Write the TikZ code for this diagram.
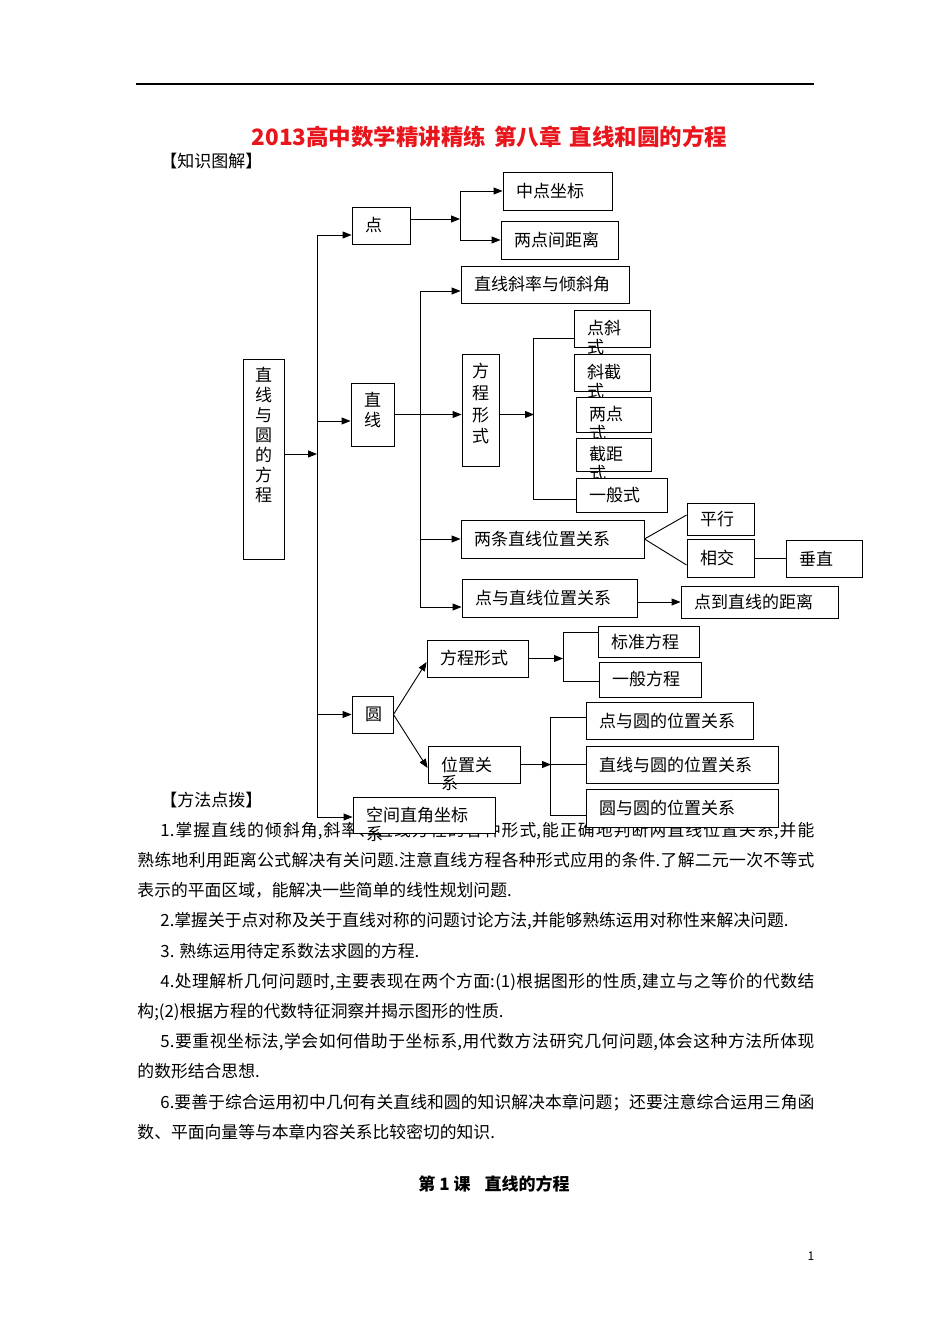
\documentclass[tikz,border=0pt]{standalone}
\usepackage{fontspec}
\setmainfont{Noto Sans CJK SC}
\usepackage{tikz}
\usetikzlibrary{arrows.meta,calc}

\definecolor{titlered}{RGB}{232,22,28}
\newcommand{\diafont}{\fontsize{17}{18.5}\selectfont}

\begin{document}
\begin{tikzpicture}[x=1pt, y=-1pt, line width=0.9pt, font=\diafont]
		\tikzset{box/.style={draw, fill=white, line width=0.9pt, inner xsep=13pt, inner ysep=0pt, align=left},
			vtxt/.style={anchor=north, inner sep=0pt, align=center},
			wrap/.style={anchor=west, inner sep=0pt},
			arr/.style={-{Triangle[length=9pt, width=7pt]}}}
		\useasboundingbox (0,0) rectangle (950,1344);
		% page head
		\draw[line width=1.3pt] (136,84) -- (814,84);
		\node[text=titlered, font=\fontsize{22.5}{24}\selectfont\bfseries] (title) at (489.5,137) {2013高中数学精讲精练\hspace{8pt}第八章\hspace{8pt}直线和圆的方程};
		\node[anchor=west, inner sep=0pt] (zstj) at (160,161) {【知识图解】};
		\node[anchor=west, inner sep=0pt] (ffdb) at (160,800) {【方法点拨】};
		% text under the chart
		\node[anchor=north west, inner sep=0pt, text width=677pt, align=justify,
			font=\fontsize{16.8}{30.2}\selectfont] (body) at (137,821.5) {\XeTeXlinebreaklocale "zh"\XeTeXlinebreakskip=0pt plus 3pt
			\hspace*{23pt}1.掌握直线的倾斜角,斜率、直线方程的各种形式,能正确地判断两直线位置关系,并能\linebreak
			熟练地利用距离公式解决有关问题.注意直线方程各种形式应用的条件.了解二元一次不等式\linebreak
			表示的平面区域，能解决一些简单的线性规划问题.\par
			\hspace*{23pt}2.掌握关于点对称及关于直线对称的问题讨论方法,并能够熟练运用对称性来解决问题.\par
			\hspace*{23pt}3. 熟练运用待定系数法求圆的方程.\par
			\hspace*{23pt}4.处理解析几何问题时,主要表现在两个方面:(1)根据图形的性质,建立与之等价的代数结\linebreak
			构;(2)根据方程的代数特征洞察并揭示图形的性质.\par
			\hspace*{23pt}5.要重视坐标法,学会如何借助于坐标系,用代数方法研究几何问题,体会这种方法所体现\linebreak
			的数形结合思想.\par
			\hspace*{23pt}6.要善于综合运用初中几何有关直线和圆的知识解决本章问题；还要注意综合运用三角函\linebreak
			数、平面向量等与本章内容关系比较密切的知识.\par};
		\node[anchor=west, inner sep=0pt, font=\fontsize{17}{18}\selectfont\bfseries] (ke1) at (418,1184) {第 1 课\hspace{14pt}直线的方程};
		\node[inner sep=0pt, font=\fontsize{12}{12}\selectfont] (pg) at (811,1256) {1};
		% root and first level
		\node[box, minimum width=41pt, minimum height=200pt, inner xsep=0pt] (main) at (263.5,459) {};
		\node[vtxt, font=\fontsize{17}{20}\selectfont] (main-t) at (263.5,367) {直\\线\\与\\圆\\的\\方\\程};
		\node[box, text width=32pt, minimum height=37pt] (dian) at (381,225.5) {点};
		\node[box, minimum width=43pt, minimum height=63pt, inner xsep=0pt] (zhi) at (372.5,414.5) {};
		\node[vtxt, font=\fontsize{17}{20}\selectfont] (zhi-t) at (372.5,392) {直\\线};
		\node[box, text width=15pt, minimum height=37pt] (yuan) at (372.5,714.5) {圆};
		% points
		\node[box, text width=83pt, minimum height=38pt] (zdzb) at (557.5,191) {中点坐标};
		\node[box, text width=91pt, minimum height=38pt] (ldjl) at (559.5,240) {两点间距离};
		% lines
		\node[box, text width=142pt, minimum height=37pt] (xlql) at (545,284.5) {直线斜率与倾斜角};
		\node[box, minimum width=37pt, minimum height=112pt, inner xsep=0pt] (fcxs) at (480.5,410) {};
		\node[vtxt, font=\fontsize{17}{21.7}\selectfont] (fcxs-t) at (480.5,363) {方\\程\\形\\式};
		\node[box, text width=50pt, minimum height=37pt] (dxs) at (612,328.5) {点斜};
		\node[wrap] (dxs-2) at ([xshift=13pt,yshift=-18.5pt]dxs.west) {式};
		\node[box, text width=50pt, minimum height=37pt] (xjs) at (612,372.5) {斜截};
		\node[wrap] (xjs-2) at ([xshift=13pt,yshift=-18.5pt]xjs.west) {式};
		\node[box, text width=49pt, minimum height=35pt] (lds) at (613.5,414.5) {两点};
		\node[wrap] (lds-2) at ([xshift=13pt,yshift=-18.5pt]lds.west) {式};
		\node[box, text width=49pt, minimum height=33pt] (jjs) at (613.5,454.5) {截距};
		\node[wrap] (jjs-2) at ([xshift=13pt,yshift=-18.5pt]jjs.west) {式};
		\node[box, text width=65pt, minimum height=34pt] (ybs) at (621.5,495) {一般式};
		\node[box, text width=157pt, minimum height=38pt] (ltzx) at (552.5,539) {两条直线位置关系};
		\node[box, text width=41pt, minimum height=32pt] (px) at (720.5,519) {平行};
		\node[box, text width=41pt, minimum height=38pt] (xj) at (720.5,558) {相交};
		\node[box, text width=50pt, minimum height=37pt] (cz) at (824,558.5) {垂直};
		\node[box, text width=149pt, minimum height=38pt] (dyzx) at (549.5,598) {点与直线位置关系};
		\node[box, text width=131pt, minimum height=32pt] (ddzx) at (759.5,602) {点到直线的距离};
		% circles
		\node[box, text width=75pt, minimum height=37pt] (yfc) at (477.5,658.5) {方程形式};
		\node[box, text width=66pt, minimum height=37pt] (wzgx) at (474,764.5) {位置关};
		\node[wrap] (wzgx-2) at ([xshift=13pt,yshift=-18.5pt]wzgx.west) {系};
		\node[box, text width=75pt, minimum height=31pt] (bzfc) at (648.5,641.5) {标准方程};
		\node[box, text width=76pt, minimum height=35pt] (ybfc) at (650,679.5) {一般方程};
		\node[box, text width=141pt, minimum height=37pt] (dyy) at (669.5,720.5) {点与圆的位置关系};
		\node[box, text width=166pt, minimum height=37pt] (zxy) at (682,764.5) {直线与圆的位置关系};
		\node[box, text width=166pt, minimum height=38pt] (yyy) at (682,808) {圆与圆的位置关系};
		\node[box, text width=116pt, minimum height=36pt] (kj) at (424,815) {空间直角坐标};
		\node[wrap] (kj-2) at ([xshift=13pt,yshift=-18.5pt]kj.west) {系};
		% trunk from the root
		\coordinate (t1) at (317,235);
		\coordinate (t1e) at (317,817);
		\coordinate (e-main) at ([yshift=5pt]main.east);
		\coordinate (e-zhi) at ([yshift=-6.5pt]zhi.west);
		\draw[arr] (e-main) -- (e-main -| t1);
		\draw (t1) -- (t1e);
		\draw[arr] (t1) -- (t1 -| dian.west);
		\draw[arr] (e-zhi -| t1) -- (e-zhi);
		\draw[arr] (yuan.west -| t1) -- (yuan.west);
		\draw[arr] (t1e) -- (t1e -| kj.west);
		% point branch
		\coordinate (b1) at (460,219);
		\draw[arr] (b1 -| dian.east) -- (b1);
		\draw (b1 |- zdzb) -- (b1 |- ldjl);
		\draw[arr] (b1 |- zdzb) -- (zdzb.west);
		\draw[arr] (b1 |- ldjl) -- (ldjl.west);
		% line branch
		\coordinate (t2) at (420,291);
		\coordinate (t2e) at (420,607);
		\draw (t2) -- (t2e);
		\draw[arr] (t2) -- (t2 -| xlql.west);
		\draw[arr] (ltzx.west -| t2) -- (ltzx.west);
		\draw[arr] (t2e) -- (t2e -| dyzx.west);
		\draw[arr] (zhi.east) -- (zhi.east -| fcxs.west);
		\coordinate (b2) at (534,414.5);
		\coordinate (b2t) at (533,338);
		\coordinate (b2b) at (533,499);
		\draw[arr] (b2 -| fcxs.east) -- (b2);
		\draw (b2t -| dxs.west) -- (b2t) -- (b2b) -- (b2b -| ybs.west);
		\draw (ltzx.east) -- ([yshift=4pt]px.west);
		\draw (ltzx.east) -- ([yshift=-7pt]xj.west);
		\draw (xj.east) -- (xj.east -| cz.west);
		\draw[arr] (ddzx.west -| dyzx.east) -- (ddzx.west);
		% circle branch
		\draw[arr] (yuan.east) -- ([yshift=-3.5pt]yfc.west);
		\draw[arr] (yuan.east) -- ([yshift=-3.5pt]wzgx.west);
		\coordinate (b3) at (563,658.5);
		\coordinate (b3t) at (563,632);
		\coordinate (b3b) at (563,681);
		\draw[arr] (yfc.east) -- (b3);
		\draw (b3t -| bzfc.west) -- (b3t) -- (b3b) -- (b3b -| ybfc.west);
		\coordinate (b4) at (551,764.5);
		\coordinate (b4t) at (550,717);
		\coordinate (b4b) at (550,815);
		\draw[arr] (wzgx.east) -- (b4);
		\draw (b4) -- (zxy.west);
		\draw (b4t -| dyy.west) -- (b4t) -- (b4b) -- (b4b -| yyy.west);
	\end{tikzpicture}
\end{document}
